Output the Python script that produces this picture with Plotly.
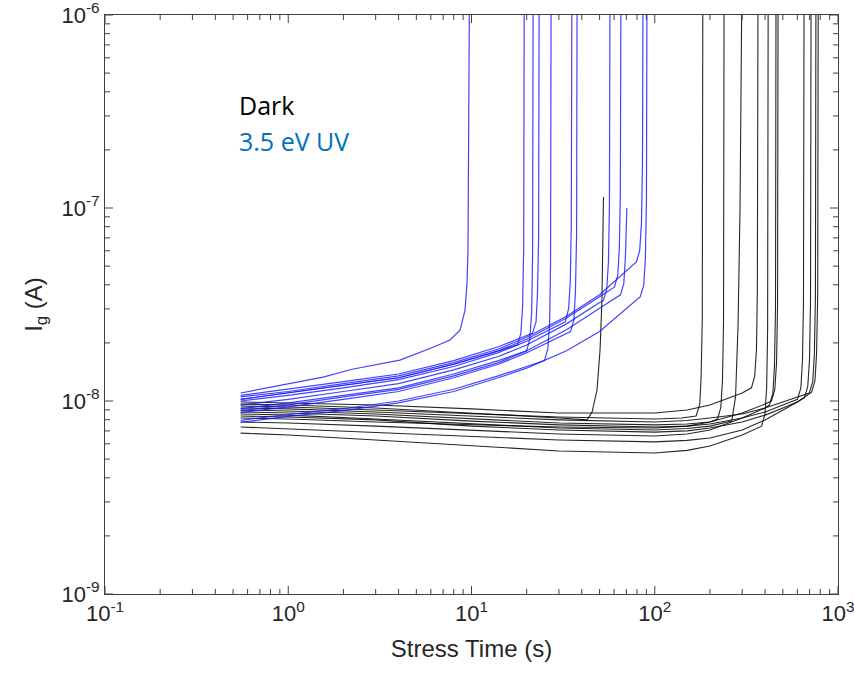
import plotly.graph_objects as go

# Gate current vs. stress time, dark vs. 3.5 eV UV illumination
# Each device trace: stress time (s) and gate current (A)

uv_times = [
    [0.55, 1.0, 1.55, 2.23, 4.07, 6.17, 7.63, 8.66, 9.22, 9.45, 9.57, 9.75],
    [0.55, 1, 2, 4, 8, 14, 17.8, 18.6, 19.0, 19.27, 19.4],
    [0.55, 1, 2, 4, 8, 14, 20.0, 20.8, 21.3, 21.55, 21.7],
    [0.55, 1, 2, 4, 8, 14, 20, 21.5, 22.5, 22.9, 23.24, 23.4],
    [0.55, 1, 2, 4, 8, 14, 20, 25.0, 26.1, 26.7, 27.0, 27.2],
    [0.55, 1, 2, 4, 8, 14, 20, 32.5, 33.9, 34.6, 35.05, 35.3],
    [0.55, 1, 2, 4, 8, 14, 20, 33, 34.7, 36.2, 36.9, 37.45, 37.7],
    [0.55, 1, 2, 4, 8, 14, 20, 33, 50, 52.4, 54.7, 55.9, 56.6, 57.0],
    [0.55, 1, 2, 4, 8, 14, 20, 33, 50, 60.2, 62.8, 64.1, 64.9, 65.4],
    [0.55, 1, 2, 4, 8, 14, 20, 33, 50, 65.0, 67.8, 69.2, 70.4],
    [0.55, 1, 2, 4, 8, 14, 20, 33, 50, 76, 79.4, 82.8, 84.6, 85.7, 86.3],
    [0.55, 1, 2, 4, 8, 14, 20, 33, 50, 76, 83.4, 87.1, 88.9, 90.1, 90.7],
]
uv_currents = [
    [1.10e-8, 1.23e-8, 1.33e-8, 1.46e-8, 1.63e-8, 1.90e-8, 2.07e-8, 2.33e-8, 2.96e-8, 4.08e-8, 6.05e-8, 1.5e-6],
    [1.02e-8, 1.10e-8, 1.20e-8, 1.32e-8, 1.55e-8, 1.82e-8, 1.95e-8, 2.24e-8, 3.09e-8, 6.17e-8, 1.5e-6],
    [9.12e-9, 9.77e-9, 1.07e-8, 1.17e-8, 1.38e-8, 1.62e-8, 1.82e-8, 2.09e-8, 2.88e-8, 5.75e-8, 1.5e-6],
    [1.07e-8, 1.15e-8, 1.26e-8, 1.38e-8, 1.62e-8, 1.91e-8, 2.19e-8, 2.24e-8, 2.57e-8, 3.55e-8, 7.08e-8, 1.5e-6],
    [7.94e-9, 8.51e-9, 9.12e-9, 1.00e-8, 1.15e-8, 1.35e-8, 1.51e-8, 1.62e-8, 1.86e-8, 2.57e-8, 5.13e-8, 1.5e-6],
    [1.00e-8, 1.07e-8, 1.17e-8, 1.29e-8, 1.51e-8, 1.78e-8, 2.04e-8, 2.57e-8, 3.02e-8, 4.17e-8, 8.32e-8, 1.5e-6],
    [8.71e-9, 9.33e-9, 1.02e-8, 1.12e-8, 1.32e-8, 1.55e-8, 1.78e-8, 2.24e-8, 2.29e-8, 2.63e-8, 3.63e-8, 7.24e-8, 1.5e-6],
    [9.55e-9, 1.02e-8, 1.12e-8, 1.23e-8, 1.45e-8, 1.70e-8, 1.95e-8, 2.51e-8, 3.24e-8, 3.31e-8, 3.80e-8, 5.25e-8, 1.05e-7, 1.5e-6],
    [1.02e-8, 1.10e-8, 1.20e-8, 1.32e-8, 1.55e-8, 1.82e-8, 2.09e-8, 2.69e-8, 3.47e-8, 3.89e-8, 4.47e-8, 6.17e-8, 1.23e-7, 1.5e-6],
    [8.91e-9, 9.55e-9, 1.05e-8, 1.15e-8, 1.35e-8, 1.58e-8, 1.82e-8, 2.34e-8, 3.02e-8, 3.55e-8, 4.07e-8, 5.62e-8, 1.00e-7],
    [1.05e-8, 1.12e-8, 1.23e-8, 1.35e-8, 1.58e-8, 1.86e-8, 2.14e-8, 2.75e-8, 3.55e-8, 5.01e-8, 5.25e-8, 6.03e-8, 8.32e-8, 1.66e-7, 1.5e-6],
    [7.76e-9, 8.32e-9, 8.91e-9, 9.77e-9, 1.12e-8, 1.32e-8, 1.48e-8, 1.82e-8, 2.29e-8, 3.24e-8, 3.47e-8, 3.98e-8, 5.50e-8, 1.10e-7, 1.5e-6],
]

dark_times = [
    [0.55, 1, 3, 10, 30, 42.7, 45.5, 48.4, 50.3, 51.5, 52.2, 52.5],
    [0.55, 1, 3, 10, 30, 100, 140, 168, 176, 179, 181.7, 183],
    [0.55, 1, 3, 10, 30, 100, 150, 200, 220, 229.4, 234.2, 237.3, 239],
    [0.55, 1, 3, 10, 30, 100, 150, 200, 263, 276, 285, 292, 299],
    [0.55, 1, 3, 10, 30, 100, 150, 200, 300, 337, 351, 359, 363, 366],
    [0.55, 1, 3, 10, 30, 100, 150, 200, 300, 383, 399, 408, 413, 416],
    [0.55, 1, 3, 10, 30, 100, 150, 200, 300, 400, 422, 441, 450, 456, 459],
    [0.55, 1, 3, 10, 30, 100, 150, 200, 300, 400, 433, 452, 462, 468, 471],
    [0.55, 1, 3, 10, 30, 100, 150, 200, 300, 400, 500, 601, 627, 640, 648, 653],
    [0.55, 1, 3, 10, 30, 100, 150, 200, 300, 400, 500, 600, 656, 684, 699, 708, 713],
    [0.55, 1, 3, 10, 30, 100, 150, 200, 300, 400, 500, 600, 697, 728, 743, 753, 758],
    [0.55, 1, 3, 10, 30, 100, 150, 200, 300, 400, 500, 600, 718, 749, 764, 775, 780],
]
dark_currents = [
    [9.64e-9, 9.53e-9, 9.20e-9, 8.67e-9, 8.17e-9, 7.98e-9, 8.77e-9, 1.14e-8, 1.84e-8, 3.33e-8, 6.05e-8, 1.14e-7],
    [9.42e-9, 9.31e-9, 8.98e-9, 8.57e-9, 8.26e-9, 8.07e-9, 8.17e-9, 8.36e-9, 9.59e-9, 1.32e-8, 2.64e-8, 1.5e-6],
    [8.98e-9, 8.87e-9, 8.57e-9, 8.07e-9, 7.69e-9, 7.52e-9, 7.60e-9, 7.78e-9, 8.07e-9, 9.27e-9, 1.28e-8, 2.55e-8, 1.5e-6],
    [8.57e-9, 8.45e-9, 8.07e-9, 7.60e-9, 7.24e-9, 7.08e-9, 7.20e-9, 7.41e-9, 7.87e-9, 1.05e-8, 2.51e-8, 1.00e-7, 1.5e-6],
    [9.89e-9, 9.77e-9, 9.53e-9, 9.10e-9, 8.67e-9, 8.67e-9, 8.98e-9, 9.53e-9, 1.10e-8, 1.17e-8, 1.34e-8, 1.85e-8, 3.69e-8, 1.5e-6],
    [6.82e-9, 6.67e-9, 6.28e-9, 5.85e-9, 5.51e-9, 5.38e-9, 5.55e-9, 5.85e-9, 6.67e-9, 7.41e-9, 8.51e-9, 1.17e-8, 2.34e-8, 1.5e-6],
    [7.78e-9, 7.69e-9, 7.41e-9, 7.08e-9, 6.75e-9, 6.59e-9, 6.75e-9, 7.08e-9, 8.17e-9, 9.20e-9, 9.53e-9, 1.09e-8, 1.51e-8, 3.01e-8, 1.5e-6],
    [8.17e-9, 8.07e-9, 7.78e-9, 7.52e-9, 7.33e-9, 7.24e-9, 7.41e-9, 7.78e-9, 8.67e-9, 9.64e-9, 1.00e-8, 1.15e-8, 1.58e-8, 3.16e-8, 1.5e-6],
    [8.77e-9, 8.67e-9, 8.36e-9, 7.87e-9, 7.52e-9, 7.33e-9, 7.41e-9, 7.60e-9, 8.17e-9, 8.77e-9, 9.53e-9, 1.02e-8, 1.17e-8, 1.62e-8, 3.24e-8, 1.5e-6],
    [8.36e-9, 8.26e-9, 7.98e-9, 7.41e-9, 7.08e-9, 6.90e-9, 7.00e-9, 7.24e-9, 7.78e-9, 8.45e-9, 9.20e-9, 9.89e-9, 1.04e-8, 1.19e-8, 1.64e-8, 3.28e-8, 1.5e-6],
    [9.20e-9, 9.10e-9, 8.77e-9, 8.36e-9, 7.98e-9, 7.78e-9, 7.92e-9, 8.17e-9, 8.57e-9, 9.20e-9, 9.89e-9, 1.05e-8, 1.10e-8, 1.26e-8, 1.74e-8, 3.48e-8, 1.5e-6],
    [7.33e-9, 7.16e-9, 6.82e-9, 6.50e-9, 6.28e-9, 6.14e-9, 6.25e-9, 6.43e-9, 7.08e-9, 7.98e-9, 8.98e-9, 9.89e-9, 1.11e-8, 1.28e-8, 1.77e-8, 3.52e-8, 1.5e-6],
]

x_tick_vals = [0.1, 1, 10, 100, 1000]
x_tick_text = ["10<sup>-1</sup>", "10<sup>0</sup>", "10<sup>1</sup>", "10<sup>2</sup>", "10<sup>3</sup>"]
y_tick_vals = [1e-9, 1e-8, 1e-7, 1e-6]
y_tick_text = ["10<sup>-9</sup>", "10<sup>-8</sup>", "10<sup>-7</sup>", "10<sup>-6</sup>"]

x_minor = [m * 10.0 ** e for e in range(-1, 3) for m in range(2, 10)]
y_minor = [m * 10.0 ** e for e in range(-9, -6) for m in range(2, 10)]

AX_COLOR = "#404040"
TXT_COLOR = "#262626"
FONT = "Liberation Sans, Arial, sans-serif"

W, H = 854, 678
MARGIN = dict(l=105, r=16, t=15, b=84)
PLOT_W = W - MARGIN["l"] - MARGIN["r"]
PLOT_H = H - MARGIN["t"] - MARGIN["b"]
MAJOR_LEN, MINOR_LEN = 8, 5

fig = go.Figure()

for t, i in zip(dark_times, dark_currents):
    fig.add_trace(go.Scatter(x=t, y=i, mode="lines",
                             line=dict(color="rgba(0,0,0,0.85)", width=1.1),
                             showlegend=False, hoverinfo="skip"))

for t, i in zip(uv_times, uv_currents):
    fig.add_trace(go.Scatter(x=t, y=i, mode="lines",
                             line=dict(color="rgba(20,20,255,0.8)", width=1.2),
                             showlegend=False, hoverinfo="skip"))

# inward tick marks on all four sides, placed on the axis scale at the tick values
tick_line = dict(color=AX_COLOR, width=1)
for vals, length in ((x_tick_vals, MAJOR_LEN), (x_minor, MINOR_LEN)):
    f = length / PLOT_H
    for v in vals:
        fig.add_shape(type="line", xref="x", yref="y domain", x0=v, x1=v, y0=0, y1=f, line=tick_line)
        fig.add_shape(type="line", xref="x", yref="y domain", x0=v, x1=v, y0=1 - f, y1=1, line=tick_line)
for vals, length in ((y_tick_vals, MAJOR_LEN), (y_minor, MINOR_LEN)):
    f = length / PLOT_W
    for v in vals:
        fig.add_shape(type="line", xref="x domain", yref="y", x0=0, x1=f, y0=v, y1=v, line=tick_line)
        fig.add_shape(type="line", xref="x domain", yref="y", x0=1 - f, x1=1, y0=v, y1=v, line=tick_line)

axis_font = dict(family=FONT, size=22, color=TXT_COLOR)
title_font = dict(family=FONT, size=24, color=TXT_COLOR)

fig.update_layout(
    xaxis=dict(
        type="log", range=[-1, 3], automargin=False, ticklabeloverflow="allow",
        tickvals=x_tick_vals, ticktext=x_tick_text, ticks="",
        showline=True, linecolor=AX_COLOR, linewidth=1, mirror=True,
        showgrid=False, zeroline=False, tickfont=axis_font,
        title=dict(text="Stress Time (s)", font=title_font, standoff=14),
    ),
    yaxis=dict(
        type="log", range=[-9, -6], automargin=False, ticklabeloverflow="allow",
        tickvals=y_tick_vals, ticktext=y_tick_text, ticks="",
        showline=True, linecolor=AX_COLOR, linewidth=1, mirror=True,
        showgrid=False, zeroline=False, tickfont=axis_font,
        title=dict(text="I<sub>g</sub> (A)", font=title_font, standoff=12),
    ),
)

fig.add_annotation(x=0.18, y=0.844, xref="paper", yref="paper", xanchor="left", yanchor="middle",
                   text="Dark", showarrow=False,
                   font=dict(family="Open Sans, sans-serif", size=25, color="#000000"))
fig.add_annotation(x=0.18, y=0.783, xref="paper", yref="paper", xanchor="left", yanchor="middle",
                   text="3.5 eV UV", showarrow=False,
                   font=dict(family="Open Sans, sans-serif", size=25, color="#0070C0"))

fig.update_layout(
    width=W, height=H,
    margin=MARGIN,
    paper_bgcolor="white", plot_bgcolor="white",
)

fig.write_html("out.html")
